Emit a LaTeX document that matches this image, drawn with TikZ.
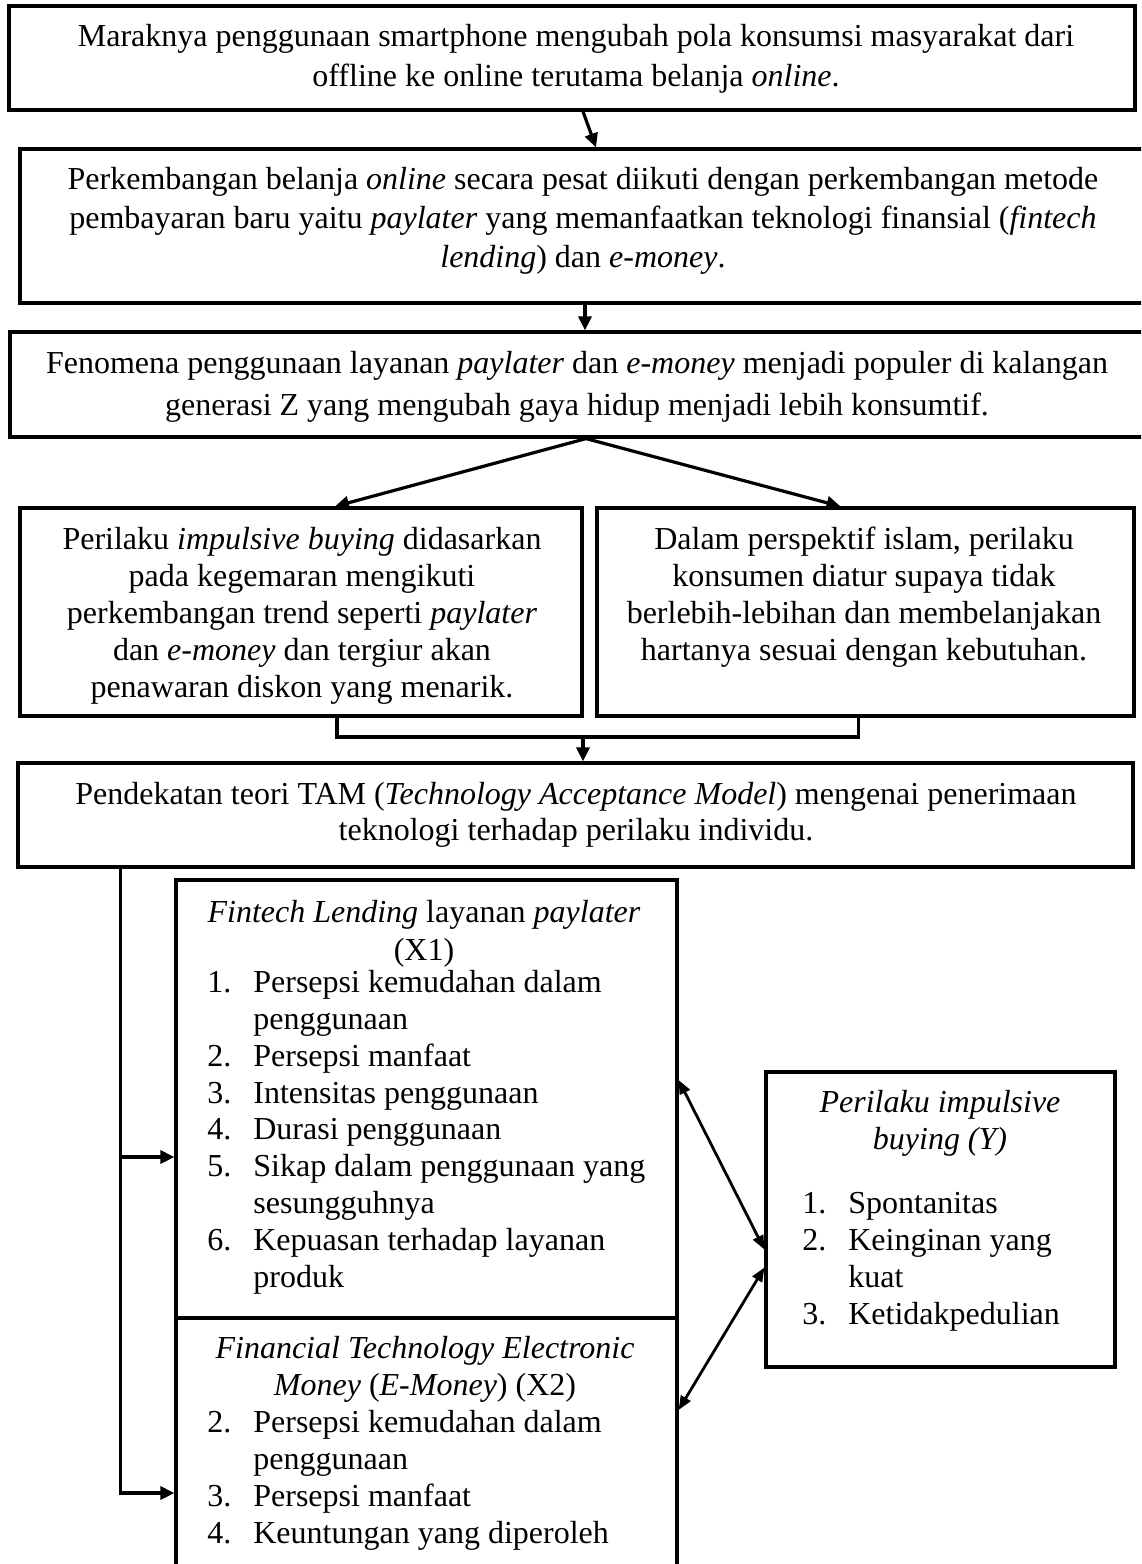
\documentclass[tikz,border=0pt]{standalone}
\usepackage{fontspec}
\setmainfont{Liberation Serif}
\usetikzlibrary{arrows.meta,calc}

\tikzset{
  kotak/.style={draw, line width=1.6pt, inner sep=0pt},
  teks/.style={align=center, anchor=base, inner sep=0pt, font=\fontsize{16}{19.5}\selectfont},
  daftar/.style={align=left, anchor=base west, inner sep=0pt, font=\fontsize{16}{18.4}\selectfont},
  garis/.style={line width=1.6pt},
  panah/.style={line width=1.6pt, -{Triangle[length=7pt,width=6.5pt]}},
  panahdua/.style={line width=1.4pt, {Triangle[length=7pt,width=5.5pt]}-{Triangle[length=7pt,width=5.5pt]}}
}
\newcommand{\butir}[2]{\makebox[23pt][l]{#1.}#2}
\newcommand{\lanjut}[1]{\hspace*{23pt}#1}

\begin{document}
\begin{tikzpicture}[x=0.5pt,y=-0.5pt]
  \clip (0,0) rectangle (1141,1564);

  % kotak-kotak alur
  \node[kotak, minimum width=563pt, minimum height=52pt] (b1) at (572,58) {};
  \node[kotak, minimum width=565pt, minimum height=77pt] (b2) at (585,226) {};
  \node[kotak, minimum width=570pt, minimum height=52.5pt] (b3) at (580,384.5) {};
  \node[kotak, minimum width=281pt, minimum height=104pt] (b4a) at (301,612) {};
  \node[kotak, minimum width=268.5pt, minimum height=104pt] (b4b) at (865.5,612) {};
  \node[kotak, minimum width=557.5pt, minimum height=52pt] (b5) at (575.5,815) {};
  \node[kotak, minimum width=250.5pt, minimum height=219pt] (x1) at (426.5,1099) {};
  \node[kotak, minimum width=250.5pt, minimum height=141pt] (x2) at (426.5,1459) {};
  \node[kotak, minimum width=174.5pt, minimum height=147.5pt] (y) at (940.5,1219.5) {};

  % isi teks (titik = garis dasar baris terakhir)
  \node[teks, font=\fontsize{16}{20}\selectfont] (t1) at (576,86)
    {Maraknya penggunaan smartphone mengubah pola konsumsi masyarakat dari\\
     offline ke online terutama belanja \textit{online}.};
  \node[teks, font=\fontsize{16}{19.3}\selectfont] (t2) at (583,267)
    {Perkembangan belanja \textit{online} secara pesat diikuti dengan perkembangan metode\\
     pembayaran baru yaitu \textit{paylater} yang memanfaatkan teknologi finansial (\textit{fintech}\\
     \textit{lending}) dan \textit{e-money}.};
  \node[teks, font=\fontsize{16}{21}\selectfont] (t3) at (577,415)
    {Fenomena penggunaan layanan \textit{paylater} dan \textit{e-money} menjadi populer di kalangan\\
     generasi Z yang mengubah gaya hidup menjadi lebih konsumtif.};
  \node[teks, font=\fontsize{16}{18.5}\selectfont] (t4a) at (302,697)
    {Perilaku \textit{impulsive buying} didasarkan\\
     pada kegemaran mengikuti\\
     perkembangan trend seperti \textit{paylater}\\
     dan \textit{e-money} dan tergiur akan\\
     penawaran diskon yang menarik.};
  \node[teks, font=\fontsize{16}{18.5}\selectfont] (t4b) at (864,660)
    {Dalam perspektif islam, perilaku\\
     konsumen diatur supaya tidak\\
     berlebih-lebihan dan membelanjakan\\
     hartanya sesuai dengan kebutuhan.};
  \node[teks, font=\fontsize{16}{17.8}\selectfont] (t5) at (576,840)
    {Pendekatan teori TAM (\textit{Technology Acceptance Model}) mengenai penerimaan\\
     teknologi terhadap perilaku individu.};

  \node[teks, font=\fontsize{16}{19}\selectfont] (jx1) at (424,960)
    {\textit{Fintech Lending} layanan \textit{paylater}\\ (X1)};
  \node[daftar] (lx1) at (207,1287)
    {\butir{1}{Persepsi kemudahan dalam}\\
     \lanjut{penggunaan}\\
     \butir{2}{Persepsi manfaat}\\
     \butir{3}{Intensitas penggunaan}\\
     \butir{4}{Durasi penggunaan}\\
     \butir{5}{Sikap dalam penggunaan yang}\\
     \lanjut{sesungguhnya}\\
     \butir{6}{Kepuasan terhadap layanan}\\
     \lanjut{produk}};

  \node[teks, font=\fontsize{16}{18.5}\selectfont] (jx2) at (425,1395)
    {\textit{Financial Technology Electronic}\\ \textit{Money} (\textit{E-Money}) (X2)};
  \node[daftar] (lx2) at (207,1543)
    {\butir{2}{Persepsi kemudahan dalam}\\
     \lanjut{penggunaan}\\
     \butir{3}{Persepsi manfaat}\\
     \butir{4}{Keuntungan yang diperoleh}};

  \node[teks, font=\fontsize{16}{18.5}\selectfont] (jy) at (940,1149)
    {\textit{Perilaku impulsive}\\ \textit{buying (Y)}};
  \node[daftar, font=\fontsize{16}{18.5}\selectfont] (ly) at (802,1324)
    {\butir{1}{Spontanitas}\\
     \butir{2}{Keinginan yang}\\
     \lanjut{kuat}\\
     \butir{3}{Ketidakpedulian}};

  % panah
  \draw[panah] ($(b1.south)+(11,0)$) -- ($(b2.north)+(11,0)$);
  \draw[panah] (b2.south) -- (b2.south |- b3.north);
  \draw[panah] ($(b3.south)+(6,0)$) -- ($(b4a.north)+(34,0)$);
  \draw[panah] ($(b3.south)+(6,0)$) -- ($(b4b.north)+(-25,0)$);

  \coordinate (jn) at (583,737);
  \draw[garis] ($(b4a.south)+(36,0)$) |- (jn) -| ($(b4b.south)+(-7,0)$);
  \draw[panah] (jn) -- (jn |- b5.north);

  \coordinate (lc) at ($(b5.south west)+(104,0)$);
  \draw[panah] (lc) |- ($(x1.west)+(0,58)$);
  \draw[panah] (lc) |- ($(x2.west)+(0,34)$);

  \draw[panahdua] ($(x1.east)+(0,-19)$) -- ($(y.west)+(0,30)$);
  \draw[panahdua] ($(y.west)+(0,48)$) -- ($(x2.east)+(0,-49)$);
\end{tikzpicture}
\end{document}
